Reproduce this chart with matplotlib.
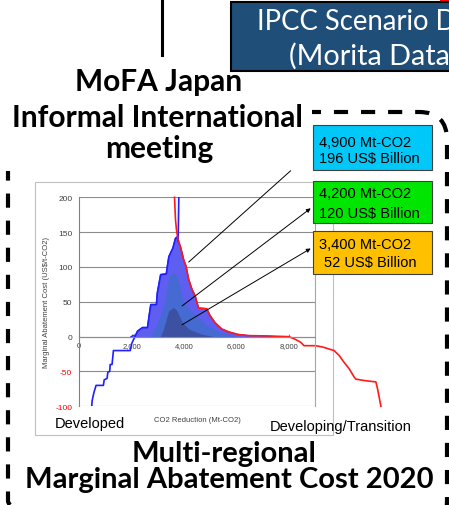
import matplotlib
matplotlib.use('Agg')
from matplotlib import pyplot as plt
from matplotlib.patches import Rectangle, FancyBboxPatch

# developed region MAC curve (blue), Mt-CO2 vs US$/t-CO2
blue_x = [475, 490, 560, 640, 920, 950, 1060, 1090, 1160, 1180, 1250, 1290, 1303, 1943, 2000,
          2100, 2150, 2227, 2415, 2604, 2667, 2730, 2944, 2981, 3107, 3321, 3384, 3422, 3573,
          3673, 3736, 3774, 3800]
blue_y = [-100, -92, -80, -70, -70, -62, -60, -51, -50, -40, -40, -25, -20, -20, -10,
          -2, 2, 8, 13, 13, 30, 46, 46, 63, 89, 90, 106, 115, 127,
          141, 143, 137, 200]

# developing/transition MAC curve (red)
red_x = [3636, 3673, 3711, 3761, 3862, 3988, 4076, 4177, 4302, 4428, 4491, 4554, 4868, 4994,
         5183, 5435, 5686, 6064, 6441, 7175, 7558, 8000, 8200, 8452, 8580, 9027, 9300, 9729,
         9920, 10112, 10303, 10495, 10559, 10878, 11325, 11389, 11517]
red_y = [200, 168, 153, 141, 129, 110, 101, 82, 68, 58, 49, 41, 40, 30,
         20, 11, 7, 3, 1.5, 1, 0.5, 0, -3, -8, -13, -13, -15, -20,
         -27, -37, -46, -58, -61, -63, -65, -75, -100]

# combined areas (4,900 / 4,200 / 3,400 Mt-CO2 cases)
outer_x = [1975, 2100, 2150, 2227, 2415, 2604, 2667, 2730, 2944, 2981, 3107, 3321, 3384, 3422,
           3573, 3673, 3736, 3774, 3862, 3988, 4076, 4177, 4302, 4428, 4491, 4554, 4868, 4994,
           5183, 5435, 5686, 6064, 6441, 7000, 7450]
outer_y = [0, 2, 2, 8, 13, 13, 30, 46, 46, 63, 89, 90, 106, 115,
           127, 141, 143, 137, 129, 110, 101, 82, 68, 58, 49, 41, 40, 30,
           20, 11, 7, 3, 1.5, 0.8, 0]
mid_x = [2709, 2908, 3092, 3218, 3349, 3448, 3602, 3732, 3858, 3985, 4176, 4498, 4881, 5391, 6030]
mid_y = [0, 13, 30, 44, 68, 88, 92, 88, 68, 49, 40, 30, 16, 6, 0]
inner_x = [3092, 3218, 3410, 3602, 3732, 3923, 4176, 4625, 5134]
inner_y = [0, 11, 37, 42, 37, 21, 11, 4, 0]

x_ticks = [0, 2000, 4000, 6000, 8000]
x_labels = ['0', '2,000', '4,000', '6,000', '8,000']
y_ticks = [-100, -50, 0, 50, 100, 150, 200]

W, H = 449, 506
title_font = 'Lato'
chart_font = 'Liberation Sans'


def main():
    fig = plt.figure(figsize=(W / 100, H / 100), dpi=100)

    # slide background layer, pixel coords with y down
    bg = fig.add_axes([0, 0, 1, 1])
    bg.set_xlim(0, W)
    bg.set_ylim(H, 0)
    bg.axis('off')

    bg.plot([161.5, 161.5], [0, 56], color='black', lw=2.2)
    bg.add_patch(Rectangle((231, 3), 240, 69, facecolor='#1f4e79', edgecolor='black', lw=1.5))
    bg.add_patch(Rectangle((440, -1), 9, 2.5, color='red', lw=0))
    bg.text(257, 30, 'IPCC Scenario D', color='white', fontsize=19.8, family=title_font)
    bg.text(289, 65, '(Morita Data', color='white', fontsize=20.8, family=title_font)

    bg.add_patch(FancyBboxPatch((8, 113), 439, 417, boxstyle='round,pad=0,rounding_size=28',
                                fill=False, ec='black', lw=3, linestyle=(0, (3.4, 3.1))))
    bg.add_patch(Rectangle((0, 75), 312, 97, fc='white', ec='none', zorder=3))

    for txt, x, y in [('MoFA Japan', 158.5, 90.7), ('Informal International', 157, 126.7),
                      ('meeting', 159, 158)]:
        bg.text(x, y, txt, ha='center', va='baseline', fontsize=21.5, weight='bold',
                family=title_font, zorder=4)
    bg.text(224, 462.5, 'Multi-regional', ha='center', va='baseline', fontsize=21,
            weight='bold', family=title_font)
    bg.text(229, 488.3, 'Marginal Abatement Cost 2020', ha='center', va='baseline',
            fontsize=21, weight='bold', family=title_font)

    # embedded chart frame
    bg.add_patch(Rectangle((35, 183), 298, 253, fc='white', ec='#bfbfbf', lw=0.8, zorder=5))
    bg.text(55, 428, 'Developed', fontsize=10.5, family=chart_font, zorder=6)
    bg.text(270, 430.7, 'Developing/Transition', fontsize=10.5, family=chart_font, zorder=6)

    # chart axes
    ax = fig.add_axes([79.3 / W, 1 - 407.3 / H, 235.7 / W, 209 / H])
    ax.set_facecolor('none')
    ax.set_xlim(0, 9000)
    ax.set_ylim(-100, 200)
    ax.set_axisbelow(True)
    ax.yaxis.grid(True, color='#8c8c8c', lw=0.8)
    ax.spines['top'].set_visible(False)
    ax.spines['bottom'].set_position(('data', 0))
    ax.spines['bottom'].set_color('#8c8c8c')
    ax.spines['left'].set_color('#808080')
    ax.spines['right'].set_color('#a6a6a6')

    ax.set_xticks(x_ticks)
    ax.set_xticklabels(x_labels)
    ax.set_yticks(y_ticks)
    ax.set_yticklabels([str(v) for v in y_ticks])
    ax.tick_params(axis='x', direction='in', length=2.5, pad=4, labelsize=5.5,
                   labelcolor='#404040', color='#808080')
    ax.tick_params(axis='y', length=0, pad=5, labelsize=6, labelcolor='#404040')
    for lab, v in zip(ax.get_yticklabels(), y_ticks):
        lab.set_color('red' if v < 0 else '#404040')
    for lab in ax.get_xticklabels() + ax.get_yticklabels():
        lab.set_family(chart_font)

    ax.text(-0.141, 0.5, 'Marginal Abatement Cost (US$/t-CO2)', transform=ax.transAxes,
            rotation=90, ha='center', va='center', fontsize=5.5, color='#404040',
            family=chart_font)
    ax.text(0.5, -0.061, 'CO2 Reduction (Mt-CO2)', transform=ax.transAxes, ha='center',
            va='center', fontsize=5.5, color='#404040', family=chart_font)

    ax.fill_between(outer_x, outer_y, 0, color='#5e5ef0', lw=0)
    ax.fill_between(mid_x, mid_y, 0, color='#456ad2', lw=0)
    ax.fill_between(inner_x, inner_y, 0, color='#3c51a2', lw=0)
    ax.plot(outer_x, outer_y, color='#2a2aff', lw=1)
    ax.plot(blue_x, blue_y, color='#1f1fff', lw=1.2)
    ax.plot(red_x, red_y, color='#ff1a1a', lw=1.2, clip_on=False)

    # overlay layer for callouts
    top = fig.add_axes([0, 0, 1, 1])
    top.set_xlim(0, W)
    top.set_ylim(H, 0)
    top.axis('off')

    boxes = [((313, 126), 45, '#00c8f8', ['4,900 Mt-CO2', '196 US$ Billion'], [146.7, 162.7], [319, 319]),
             ((313, 182), 42, '#00e600', ['4,200 Mt-CO2', '120 US$ Billion'], [198.3, 217.7], [319, 319]),
             ((313, 232), 43, '#ffc000', ['3,400 Mt-CO2', '52 US$ Billion'], [249, 267.3], [319, 324])]
    for (x0, y0), h, col, lines, ys, xs in boxes:
        top.add_patch(Rectangle((x0, y0), 119, h, fc=col, ec='#404040', lw=0.8))
        for line, ly, lx in zip(lines, ys, xs):
            top.text(lx, ly, line, fontsize=10.5, family=chart_font, va='baseline')

    arrows = [((4176, 107), (290.7, 171.7), '-'),
              ((3923, 44), (310.7, 209.3), '-|>'),
              ((3923, 17), (310.7, 249.5), '-|>')]
    for start, end, style in arrows:
        ax.annotate('', xy=(end[0], H - end[1]), xycoords='figure pixels', xytext=start,
                    textcoords='data', annotation_clip=False,
                    arrowprops=dict(arrowstyle=style, color='black', lw=0.7, shrinkA=0,
                                    shrinkB=0, mutation_scale=6))

    fig.savefig('out.png', dpi=100)


if __name__ == '__main__':
    main()
